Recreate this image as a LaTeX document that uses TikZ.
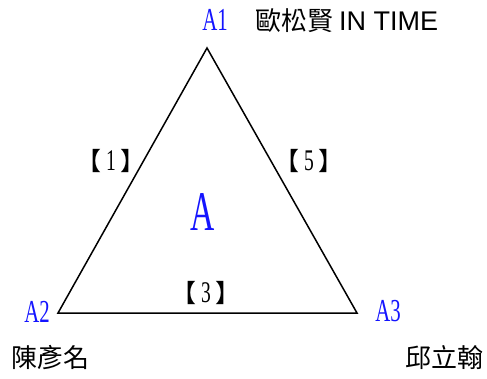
\documentclass[tikz,border=0pt]{standalone}
\usepackage{fontspec}
\newfontfamily\cjk{Noto Sans CJK TC}
\newfontfamily\ser[FakeStretch=0.65]{Liberation Serif}
\newfontfamily\serA[FakeStretch=0.6]{Liberation Serif}
\newfontfamily\sans{Liberation Sans}
\definecolor{lblue}{RGB}{20,20,255}
\newcommand{\brk}[1]{{\cjk\fontsize{25}{25}\selectfont 【}\kern5pt{\ser\fontsize{30}{30}\selectfont #1}\kern5pt{\cjk\fontsize{25}{25}\selectfont 】}}
\begin{document}
\begin{tikzpicture}[x=1pt,y=-1pt,
  vlabel/.style={text=lblue,font=\ser\fontsize{32}{32}\selectfont,inner sep=0pt},
  pname/.style={font=\cjk\fontsize{26}{26}\selectfont,inner sep=0pt},
  numlbl/.style={inner sep=0pt}]
\useasboundingbox (0,0) rectangle (487,378);
\coordinate (v1) at (207,48);
\coordinate (v2) at (58,313);
\coordinate (v3) at (357,313);
\draw[line width=1.5pt,line join=miter] (v1) -- (v2) -- (v3) -- cycle;
\node[vlabel] (a1) at (215,20) {A1};
\node[pname,anchor=west] (n1) at (255,21) {歐松賢 {\sans\fontsize{27}{27}\selectfont IN TIME}};
\node[vlabel] (a2) at (37,312) {A2};
\node[vlabel] (a3) at (388,311) {A3};
\node[pname] (n2) at (50,358) {陳彥名};
\node[pname] (n3) at (444,358) {邱立翰};
\node[numlbl] (e1) at (111,161) {\brk{1}};
\node[numlbl] (e5) at (309,161) {\brk{5}};
\node[numlbl] (e3) at (206,293) {\brk{3}};
\node[text=lblue,font=\serA\fontsize{56}{56}\selectfont,inner sep=0pt] (A) at (203,212) {A};
\end{tikzpicture}
\end{document}
